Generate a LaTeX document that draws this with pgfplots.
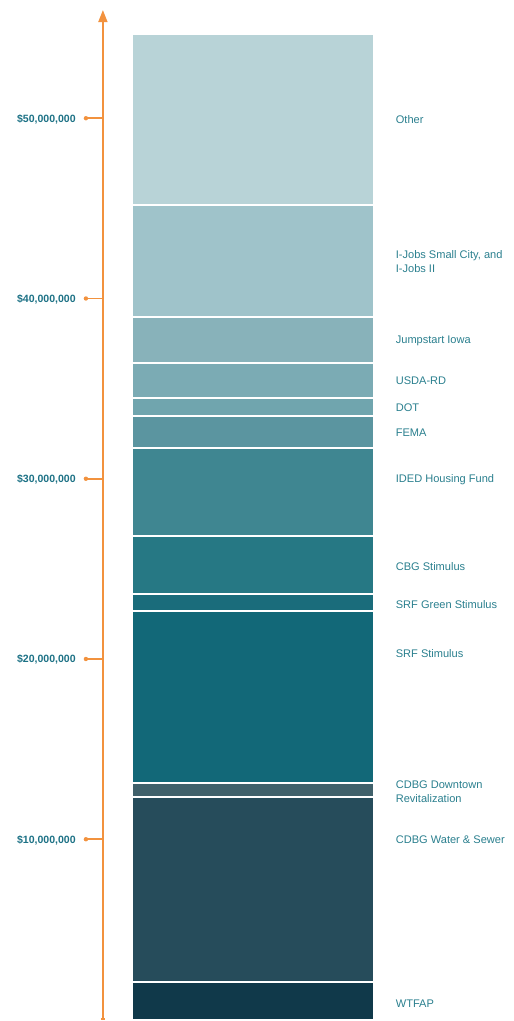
\documentclass[border=0pt]{standalone}
\usepackage{pgfplots}
\pgfplotsset{compat=1.18}
\usepackage{fontspec}
\setmainfont{Liberation Sans}
\usetikzlibrary{arrows.meta}
\definecolor{axorange}{HTML}{F2923E}
\definecolor{ticklab}{HTML}{1C7185}
\definecolor{lab}{HTML}{2A7F8E}
\definecolor{cA}{HTML}{10394A}
\definecolor{cB}{HTML}{264C5B}
\definecolor{cC}{HTML}{40616B}
\definecolor{cD}{HTML}{126878}
\definecolor{cE}{HTML}{1A6C7B}
\definecolor{cF}{HTML}{267884}
\definecolor{cG}{HTML}{3F8691}
\definecolor{cH}{HTML}{5B95A0}
\definecolor{cI}{HTML}{70A5AE}
\definecolor{cJ}{HTML}{7BABB4}
\definecolor{cK}{HTML}{88B2BA}
\definecolor{cL}{HTML}{9FC3CA}
\definecolor{cM}{HTML}{B8D3D7}
\begin{document}
\begin{tikzpicture}
\begin{axis}[
  scale only axis,
  width=514bp, height=1021bp,
  xmin=0, xmax=514,
  ymin=-0.033, ymax=56.56,
  hide axis,
  clip=false,
  ybar stacked,
  bar width=242,
  every axis plot/.append style={draw=white, line width=2bp},
]
\path (rel axis cs:0,0) rectangle (rel axis cs:1,1);
\addplot[fill=cA] coordinates {(253,2.07)};
\addplot[fill=cB] coordinates {(253,10.26)};
\addplot[fill=cC] coordinates {(253,0.77)};
\addplot[fill=cD] coordinates {(253,9.54)};
\addplot[fill=cE] coordinates {(253,0.94)};
\addplot[fill=cF] coordinates {(253,3.24)};
\addplot[fill=cG] coordinates {(253,4.91)};
\addplot[fill=cH] coordinates {(253,1.77)};
\addplot[fill=cI] coordinates {(253,0.97)};
\addplot[fill=cJ] coordinates {(253,1.97)};
\addplot[fill=cK] coordinates {(253,2.52)};
\addplot[fill=cL] coordinates {(253,6.24)};
\addplot[fill=cM] coordinates {(253,9.48)};

% orange axis
\draw[draw=axorange, line width=1.8bp, -{Triangle[length=12bp,width=9bp]}] (axis cs:103,-0.033) -- (axis cs:103,56.0);
\draw[draw=axorange, line width=1.6bp] (axis cs:101,0.02) -- (axis cs:105,0.02);
\tikzset{tk/.style={draw=axorange, line width=1.6bp},
  tl/.style={anchor=east, font=\fontsize{10.6}{12}\selectfont\bfseries, text=ticklab, inner sep=0pt}}
\draw[tk] (axis cs:86,10) -- (axis cs:103,10);
\fill[axorange] (axis cs:86,10) circle[radius=2.2bp];
\node[tl] at (axis cs:76,9.96) {\$10,000,000};
\draw[tk] (axis cs:86,20) -- (axis cs:103,20);
\fill[axorange] (axis cs:86,20) circle[radius=2.2bp];
\node[tl] at (axis cs:76,19.96) {\$20,000,000};
\draw[tk] (axis cs:86,30) -- (axis cs:103,30);
\fill[axorange] (axis cs:86,30) circle[radius=2.2bp];
\node[tl] at (axis cs:76,29.96) {\$30,000,000};
\draw[tk] (axis cs:86,40) -- (axis cs:103,40);
\fill[axorange] (axis cs:86,40) circle[radius=2.2bp];
\node[tl] at (axis cs:76,39.96) {\$40,000,000};
\draw[tk] (axis cs:86,50) -- (axis cs:103,50);
\fill[axorange] (axis cs:86,50) circle[radius=2.2bp];
\node[tl] at (axis cs:76,49.96) {\$50,000,000};

% labels
\tikzset{lbl/.style={anchor=west, font=\fontsize{11.1}{14}\selectfont, text=lab, inner sep=0pt, align=left}}
\node[lbl] at (axis cs:396,49.91) {Other};
\node[lbl] at (axis cs:396,42.04) {I-Jobs Small City, and\\I-Jobs II};
\node[lbl] at (axis cs:396,37.66) {Jumpstart Iowa};
\node[lbl] at (axis cs:396,35.44) {USDA-RD};
\node[lbl] at (axis cs:396,33.94) {DOT};
\node[lbl] at (axis cs:396,32.56) {FEMA};
\node[lbl] at (axis cs:396,29.95) {IDED Housing Fund};
\node[lbl] at (axis cs:396,25.13) {CBG Stimulus};
\node[lbl] at (axis cs:396,23.02) {SRF Green Stimulus};
\node[lbl] at (axis cs:396,20.31) {SRF Stimulus};
\node[lbl] at (axis cs:396,12.66) {CDBG Downtown\\Revitalization};
\node[lbl] at (axis cs:396,10.00) {CDBG Water \& Sewer};
\node[lbl] at (axis cs:396,0.90) {WTFAP};
\end{axis}
\end{tikzpicture}
\end{document}
